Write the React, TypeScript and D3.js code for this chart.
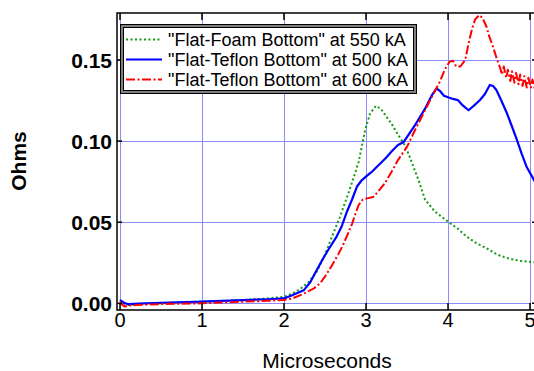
import * as d3 from "d3";

// series data (x in microseconds, y in ohms)
const foamX = [0, 0.05, 0.1, 0.3, 0.5, 1.0, 1.5, 1.8, 2.0, 2.1, 2.2, 2.3, 2.4, 2.5, 2.56, 2.68, 2.8, 2.91, 2.99, 3.05, 3.12, 3.18, 3.25, 3.32, 3.39, 3.46, 3.52, 3.58, 3.64, 3.72, 3.84, 4.0, 4.12, 4.23, 4.35, 4.47, 4.6, 4.76, 4.9, 5.06];
const foamY = [0.002, 0.0, -0.001, -0.0005, 0.0, 0.001, 0.002, 0.003, 0.004, 0.006, 0.009, 0.013, 0.0195, 0.03, 0.038, 0.053, 0.07, 0.087, 0.107, 0.117, 0.1217, 0.12, 0.115, 0.11, 0.104, 0.0986, 0.092, 0.084, 0.076, 0.064, 0.0565, 0.0503, 0.046, 0.041, 0.037, 0.034, 0.03, 0.0273, 0.026, 0.0253];

const teflon500X = [0, 0.03, 0.06, 0.1, 0.3, 0.6, 1.0, 1.5, 1.8, 2.0, 2.1, 2.24, 2.32, 2.4, 2.47, 2.54, 2.64, 2.7, 2.76, 2.83, 2.89, 2.95, 3.01, 3.07, 3.13, 3.19, 3.25, 3.32, 3.39, 3.46, 3.52, 3.6, 3.66, 3.72, 3.8, 3.86, 3.9, 3.95, 4.0, 4.06, 4.12, 4.18, 4.25, 4.32, 4.39, 4.45, 4.51, 4.55, 4.59, 4.65, 4.72, 4.78, 4.84, 4.9, 4.96, 5.06];
const teflon500Y = [0.002, 0.001, 0.0, -0.0005, 0.0, 0.0005, 0.001, 0.002, 0.0025, 0.003, 0.005, 0.008, 0.013, 0.0205, 0.027, 0.033, 0.041, 0.047, 0.0555, 0.064, 0.072, 0.076, 0.0785, 0.081, 0.084, 0.087, 0.09, 0.094, 0.0976, 0.0995, 0.104, 0.11, 0.115, 0.12, 0.128, 0.1325, 0.131, 0.128, 0.127, 0.126, 0.1253, 0.122, 0.119, 0.122, 0.1253, 0.129, 0.1346, 0.134, 0.1315, 0.125, 0.117, 0.109, 0.1007, 0.092, 0.084, 0.075];

const teflon600X = [0, 0.03, 0.06, 0.1, 0.2, 0.5, 1.0, 1.5, 1.8, 2.0, 2.1, 2.2, 2.28, 2.36, 2.44, 2.52, 2.6, 2.66, 2.72, 2.78, 2.83, 2.87, 2.91, 2.96, 3.01, 3.06, 3.09, 3.15, 3.23, 3.31, 3.39, 3.5, 3.6, 3.7, 3.8, 3.9, 3.96, 4.02, 4.06, 4.1, 4.15, 4.21, 4.25, 4.29, 4.33, 4.38, 4.42, 4.47, 4.5, 4.55, 4.6, 4.63, 4.66, 4.68, 4.71, 4.73, 4.76, 4.78, 4.81, 4.83, 4.86, 4.88, 4.91, 4.93, 4.96, 4.98, 5.01, 5.03, 5.06];
const teflon600Y = [0.001, -0.001, -0.002, -0.0015, -0.001, -0.0005, 0.0, 0.001, 0.0015, 0.002, 0.003, 0.005, 0.007, 0.009, 0.0123, 0.018, 0.0247, 0.03, 0.036, 0.043, 0.049, 0.055, 0.0606, 0.064, 0.0647, 0.0652, 0.0657, 0.069, 0.074, 0.081, 0.0883, 0.0965, 0.107, 0.117, 0.127, 0.1366, 0.144, 0.149, 0.1495, 0.146, 0.146, 0.15, 0.16, 0.1685, 0.175, 0.1777, 0.176, 0.1705, 0.165, 0.158, 0.15, 0.146, 0.141, 0.146, 0.139, 0.144, 0.137, 0.143, 0.136, 0.142, 0.135, 0.141, 0.134, 0.14, 0.133, 0.139, 0.133, 0.138, 0.132];

const xTicks = [0, 1, 2, 3, 4, 5];
const yTicks = [0, 0.05, 0.1, 0.15];
const legendLabels = ['"Flat-Foam Bottom" at 550 kA', '"Flat-Teflon Bottom" at 500 kA', '"Flat-Teflon Bottom" at 600 kA'];

export default function App() {
  const width = 534;
  const height = 371;
  const plot = { left: 117, top: 13, right: 540, bottom: 310 };

  const x = d3.scaleLinear().domain([0, 5]).range([120, 530]);
  const y = d3.scaleLinear().domain([0, 0.15]).range([303.3, 60]);

  const line = d3
    .line<[number, number]>()
    .x((d) => x(d[0]))
    .y((d) => y(d[1]));

  const series = [
    { xs: foamX, ys: foamY, color: "#109a10", dash: "2,2.5", width: 2 },
    { xs: teflon500X, ys: teflon500Y, color: "#0000ff", dash: null, width: 2.2 },
    { xs: teflon600X, ys: teflon600Y, color: "#ff0000", dash: "9,2.5,2,2.5", width: 2 },
  ];

  const font = "'Liberation Sans', Arial, sans-serif";
  const px = (v: number) => Math.round(v) + 0.5; // crisp 1px grid lines

  return (
    <div style={{ position: "absolute", left: 0, top: 0 }}>
      <svg width={width} height={height} style={{ display: "block", background: "#fff" }}>
        <defs>
          <clipPath id="plotClip">
            <rect x={plot.left} y={plot.top} width={plot.right - plot.left} height={plot.bottom - plot.top} />
          </clipPath>
        </defs>

        {/* grid */}
        <g stroke="#8c8cff" strokeWidth={1} shapeRendering="crispEdges">
          {xTicks.map((t) => (
            <line key={"gx" + t} x1={px(x(t))} x2={px(x(t))} y1={plot.top} y2={plot.bottom} />
          ))}
          {yTicks.map((t) => (
            <line key={"gy" + t} x1={plot.left} x2={x(5)} y1={px(y(t))} y2={px(y(t))} />
          ))}
        </g>

        {/* series */}
        <g clipPath="url(#plotClip)" fill="none">
          {series.map((s, i) => (
            <path
              key={i}
              d={line(s.xs.map((v, j) => [v, s.ys[j]] as [number, number])) || ""}
              stroke={s.color}
              strokeWidth={s.width}
              strokeDasharray={s.dash || undefined}
              strokeLinejoin="round"
            />
          ))}
        </g>

        {/* frame and ticks */}
        <rect
          x={plot.left}
          y={plot.top}
          width={plot.right - plot.left}
          height={plot.bottom - plot.top}
          fill="none"
          stroke="#000"
          strokeWidth={1.5}
        />
        <g stroke="#000" strokeWidth={1.5}>
          {xTicks.map((t) => (
            <g key={"tx" + t}>
              <line x1={x(t)} x2={x(t)} y1={plot.bottom} y2={plot.bottom - 7} />
              <line x1={x(t)} x2={x(t)} y1={plot.top} y2={plot.top + 7} />
            </g>
          ))}
          {yTicks.map((t) => (
            <g key={"ty" + t}>
              <line x1={plot.left} x2={plot.left + 5} y1={y(t)} y2={y(t)} />
              <line x1={plot.right} x2={plot.right - 8} y1={y(t)} y2={y(t)} />
            </g>
          ))}
        </g>

        {/* tick labels */}
        <g fontFamily={font} fontSize={20} fill="#000" textAnchor="middle">
          {xTicks.map((t) => (
            <text key={"lx" + t} x={x(t)} y={327}>
              {d3.format("d")(t)}
            </text>
          ))}
        </g>
        <g fontFamily={font} fontSize={21} fontWeight="bold" fill="#000" textAnchor="end">
          {yTicks.map((t) => (
            <text key={"ly" + t} x={112} y={y(t) + 7.5}>
              {d3.format(".2f")(t)}
            </text>
          ))}
        </g>

        {/* axis titles */}
        <text x={327} y={368} fontFamily={font} fontSize={21} textAnchor="middle">
          Microseconds
        </text>
        <text
          transform="translate(26,161) rotate(-90)"
          fontFamily={font}
          fontSize={21}
          fontWeight="bold"
          textAnchor="middle"
        >
          Ohms
        </text>

        {/* legend */}
        <g>
          <rect x={120.5} y={24.5} width={296} height={69} fill="#808080" stroke="#000" strokeWidth={1} />
          <rect x={123.5} y={27.5} width={290} height={63} fill="#fff" stroke="#000" strokeWidth={1} />
          {legendLabels.map((label, i) => {
            const s = series[i];
            const cy = 39.5 + i * 20;
            return (
              <g key={label}>
                <line
                  x1={126}
                  x2={162}
                  y1={cy}
                  y2={cy}
                  stroke={s.color}
                  strokeWidth={s.width}
                  strokeDasharray={s.dash || undefined}
                />
                <text x={168} y={cy + 6} fontFamily={font} fontSize={18} fill="#000">
                  {label}
                </text>
              </g>
            );
          })}
        </g>
      </svg>
    </div>
  );
}
